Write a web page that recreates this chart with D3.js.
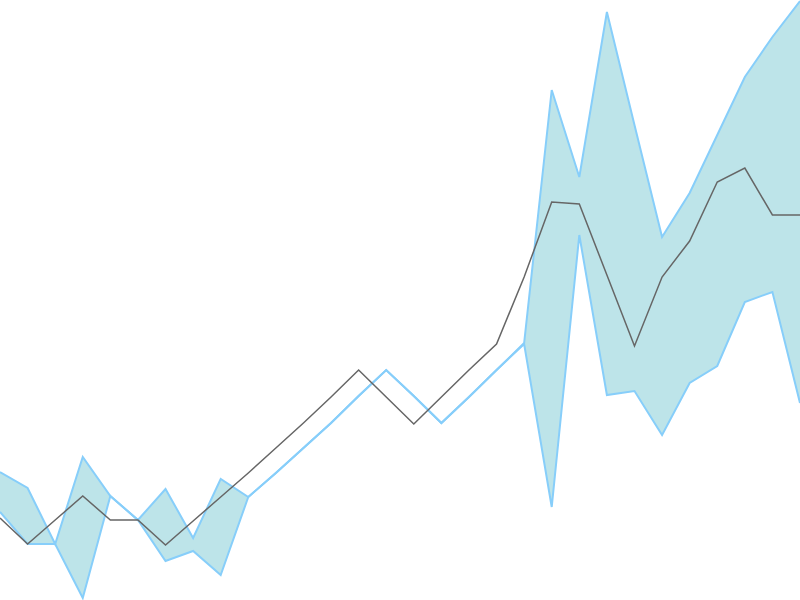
<!DOCTYPE html>
<html>
<head>
<meta charset="utf-8">
<script src="https://cdn.jsdelivr.net/npm/d3@7"></script>
<style>
  body { margin: 0; background: #fff; }
  svg { display: block; }
</style>
</head>
<body>
<script>
var width = 800;
var height = 600;

// band bounds and the gray series, one value per step
var upper = [128, 112, 56, 143, 104, 80, 111, 62, 121, 103, 127, 152, 177, 204, 230, 204, 177, 203, 230, 257,
             510, 423, 588, 475, 363, 407, 465, 523, 563, 599];
var lower = [88, 56, 56, 2, 104, 80, 39, 49, 25, 103, 127, 152, 177, 204, 230, 204, 177, 203, 230, 256,
             93, 365, 205, 209, 165, 217, 234, 298, 308, 197];
var series = [82, 56, 80, 104, 80, 80, 55, 79, 103, 127, 152, 177, 203, 230, 203, 176, 203, 230, 256, 323,
              398, 396, 325, 254, 323, 359, 418, 432, 385, 385];

var x = d3.scaleLinear().domain([0, series.length - 1]).range([0, width]);
var y = d3.scaleLinear().domain([0, 600]).range([height, 0]);

var svg = d3.select('body')
            .append('svg')
            .attr('width', width)
            .attr('height', height);

var idx = d3.range(series.length);

var area = d3.area()
        .x(function(i) { return x(i); })
        .y0(function(i) { return y(lower[i]); })
        .y1(function(i) { return y(upper[i]); });

svg.append('path').datum(idx)
   .attr('d', area)
   .attr('fill', '#bde4e9');

var lineOf = function(arr) {
  return d3.line().x(function(i) { return x(i); }).y(function(i) { return y(arr[i]); });
};

[upper, lower].forEach(function(arr) {
  svg.append('path').datum(idx)
     .attr('d', lineOf(arr))
     .attr('fill', 'none')
     .attr('stroke', '#87cefa')
     .attr('stroke-width', 2);
});

svg.append('path').datum(idx)
   .attr('d', lineOf(series))
   .attr('fill', 'none')
   .attr('stroke', '#666')
   .attr('stroke-width', 1.5);
</script>
</body>
</html>
